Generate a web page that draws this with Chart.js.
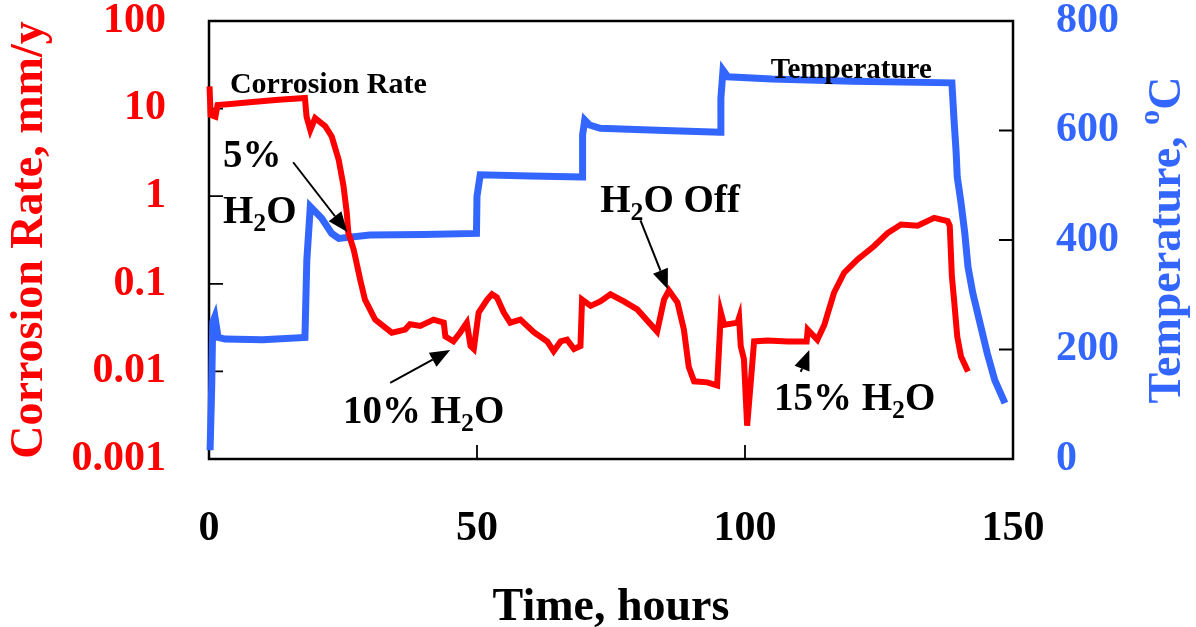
<!DOCTYPE html>
<html><head><meta charset="utf-8">
<script src="https://cdn.jsdelivr.net/npm/chart.js@4.4.1/dist/chart.umd.min.js"></script>
<style>html,body{margin:0;padding:0;background:#fff;} #wrap{width:1196px;height:627px;}</style>
</head><body><div id="wrap"><canvas id="c" width="1196" height="627"></canvas></div>
<script>
// ---- data (time in hours) ----
const corrTime = [
  0.1, 0.3, 1.2, 1.6, 4, 8.6, 13, 17.9, 18.2, 18.9,
  19.8, 21.7, 22.9, 24.2, 25.1, 25.7, 26.0, 27.0, 28.2, 29.1,
  31.0, 34.1, 36.6, 37.5, 39.4, 41.9, 43.8, 44.1, 45.6, 46.9,
  48.1, 48.8, 49.4, 50.3, 51.9, 52.8, 53.7, 55.0, 56.2, 58.1,
  60.6, 63.1, 64.3, 65.6, 66.8, 68.1, 69.3, 69.6, 71.2, 73.0,
  74.9, 77.4, 79.9, 83.6, 84.9, 85.8, 87.4, 88.6, 89.5, 90.5,
  93.0, 94.8, 95.5, 96.1, 98.6, 98.9, 99.2, 99.8, 100.4, 101.7,
  104.2, 108, 111.5, 111.7, 113.5, 114.8, 116.6, 118.5, 121.0, 124.1,
  126.6, 129.1, 132.2, 135.3, 137.8, 138.2, 138.6, 139.0, 139.6, 140.3,
  141.6
];
const corrRate = [
  17.9, 8.5, 8.1, 11, 11.3, 12, 12.6, 13.2, 8.1, 5.7,
  7.8, 6.3, 4.8, 2.6, 1.3, 0.65, 0.38, 0.245, 0.112, 0.066,
  0.039, 0.0277, 0.030, 0.0345, 0.033, 0.039, 0.036, 0.025, 0.022, 0.028,
  0.036, 0.0195, 0.018, 0.047, 0.066, 0.076, 0.070, 0.047, 0.036, 0.039,
  0.028, 0.022, 0.017, 0.022, 0.023, 0.018, 0.0195, 0.066, 0.056, 0.063,
  0.076, 0.063, 0.051, 0.0285, 0.066, 0.084, 0.061, 0.030, 0.0113, 0.0077,
  0.0075, 0.0069, 0.047, 0.034, 0.036, 0.041, 0.0195, 0.0138, 0.0024, 0.022,
  0.0225, 0.022, 0.022, 0.030, 0.023, 0.034, 0.079, 0.134, 0.19, 0.27,
  0.38, 0.475, 0.46, 0.566, 0.52, 0.46, 0.121, 0.066, 0.025, 0.0148,
  0.010
];
const tempTime = [
  0.2, 0.5, 0.7, 1.1, 1.7, 3, 10, 17.9, 18.25, 18.9,
  21.0, 22.9, 24.2, 30, 40, 49.9, 50.0, 50.6, 60, 69.6,
  69.7, 70.1, 71.0, 73, 85, 95.4, 95.5, 95.9, 96.8, 105,
  120, 138.6, 139.0, 139.4, 139.6, 140.3, 141.0, 141.6, 142.5, 143.7,
  145.2, 146.6, 148.5
];
const tempValue = [
  16, 130, 250, 260, 222, 219, 218, 222, 363, 461,
  440, 412, 403, 409, 410, 412, 480, 519, 517, 515,
  592, 619, 610, 604, 600, 597, 659, 710, 698, 694,
  690, 687, 619, 559, 515, 468, 413, 351, 303, 254,
  193, 144, 102
];
const timeTicks = [0, 50, 100, 150];
const rateTicks = [0.001, 0.01, 0.1, 1, 10, 100];
const rateTickLabels = ['0.001', '0.01', '0.1', '1', '10', '100'];
const tempTicks = [0, 200, 400, 600, 800];

// annotation anchors in data coordinates (time, temperature axis)
const noteTexts = [
  [{t:'Corrosion Rate'}],
  [{t:'Temperature'}],
  [{t:'5%'}],
  [{t:'H'},{t:'2',sub:true},{t:'O'}],
  [{t:'H'},{t:'2',sub:true},{t:'O Off'}],
  [{t:'10% H'},{t:'2',sub:true},{t:'O'}],
  [{t:'15% H'},{t:'2',sub:true},{t:'O'}]
];
const noteTime = [3.9, 104.8, 2.6, 2.6, 73.0, 25.0, 105.4];
const noteTemp = [668, 696, 533, 431, 451, 66, 89];
const arrowFrom = [[15.7, 542], [33.8, 139], [80.5, 436], [110.4, 159]];
const arrowTo   = [[25.8, 414.5], [45.0, 199], [85.6, 310], [112.0, 199]];

// ---- styles ----
const FONT = "'Liberation Serif','Times New Roman',serif";
const RED = '#ff0000', BLUE = '#3366ff';
const noteSize = [30, 29, 39, 39, 39, 39, 39];

function drawRich(ctx, segs, x, y, size) {
  let cx = x;
  segs.forEach(s => {
    const small = s.sub || s.sup;
    const fs = small ? size * 0.66 : size;
    ctx.font = `bold ${fs}px ${FONT}`;
    const dy = s.sub ? size * 0.2 : (s.sup ? -size * 0.45 : 0);
    ctx.fillText(s.t, cx, y + dy);
    cx += ctx.measureText(s.t).width;
  });
  return cx - x;
}
function richWidth(ctx, segs, size) {
  let w = 0;
  segs.forEach(s => {
    const fs = (s.sub || s.sup) ? size * 0.66 : size;
    ctx.font = `bold ${fs}px ${FONT}`;
    w += ctx.measureText(s.t).width;
  });
  return w;
}

const framePlugin = {
  id: 'frame',
  beforeDatasetsDraw(chart) {
    const {ctx, chartArea: a, scales} = chart;
    ctx.save();
    ctx.strokeStyle = '#000';
    ctx.lineWidth = 2.5;
    ctx.strokeRect(a.left, a.top, a.right - a.left, a.bottom - a.top);
    ctx.lineWidth = 1.8;
    const L = 14;
    ctx.beginPath();
    scales.x.ticks.forEach(t => {
      const p = scales.x.getPixelForValue(t.value);
      ctx.moveTo(p, a.bottom); ctx.lineTo(p, a.bottom - L);
    });
    scales.y.ticks.forEach(t => {
      const p = scales.y.getPixelForValue(t.value);
      ctx.moveTo(a.left, p); ctx.lineTo(a.left + L, p);
    });
    scales.y2.ticks.forEach(t => {
      const p = scales.y2.getPixelForValue(t.value);
      ctx.moveTo(a.right, p); ctx.lineTo(a.right - L, p);
    });
    ctx.stroke();
    ctx.restore();
  }
};

const notesPlugin = {
  id: 'notes',
  afterDraw(chart) {
    const {ctx, chartArea: a, scales} = chart;
    const X = v => scales.x.getPixelForValue(v);
    const Y = v => scales.y2.getPixelForValue(v);
    ctx.save();
    ctx.fillStyle = '#000';
    ctx.strokeStyle = '#000';
    ctx.textBaseline = 'alphabetic';
    ctx.textAlign = 'left';
    noteTexts.forEach((segs, i) => drawRich(ctx, segs, X(noteTime[i]), Y(noteTemp[i]), noteSize[i]));
    ctx.lineWidth = 2;
    arrowFrom.forEach((f, i) => {
      const x1 = X(f[0]), y1 = Y(f[1]), x2 = X(arrowTo[i][0]), y2 = Y(arrowTo[i][1]);
      const ang = Math.atan2(y2 - y1, x2 - x1);
      const hl = 20, hw = 8;
      const bx = x2 - hl * Math.cos(ang), by = y2 - hl * Math.sin(ang);
      ctx.beginPath(); ctx.moveTo(x1, y1); ctx.lineTo(bx, by); ctx.stroke();
      ctx.beginPath();
      ctx.moveTo(x2, y2);
      ctx.lineTo(bx + hw * Math.sin(ang), by - hw * Math.cos(ang));
      ctx.lineTo(bx - hw * Math.sin(ang), by + hw * Math.cos(ang));
      ctx.closePath(); ctx.fill();
    });
    // right axis title, rotated, reading bottom to top
    const titleSegs = [{t:'Temperature, '},{t:'o',sup:true},{t:'C'}];
    const size = 46;
    const w = richWidth(ctx, titleSegs, size);
    ctx.translate(a.right + 167, (a.top + a.bottom) / 2);
    ctx.rotate(-Math.PI / 2);
    ctx.fillStyle = BLUE;
    drawRich(ctx, titleSegs, -w / 2, 0, size);
    ctx.restore();
  }
};

const tickFont = {family: FONT, size: 42, weight: 'bold', lineHeight: 1};
const titleFont = {family: FONT, size: 46, weight: 'bold', lineHeight: 1};
const noPad = s => { s.paddingTop = 0; s.paddingBottom = 0; s.paddingLeft = 0; s.paddingRight = 0; };

new Chart(document.getElementById('c').getContext('2d'), {
  type: 'line',
  data: {
    datasets: [
      {
        label: 'Corrosion Rate',
        data: corrTime.map((t, i) => ({x: t, y: corrRate[i]})),
        yAxisID: 'y', borderColor: RED, backgroundColor: RED,
        borderWidth: 6, pointRadius: 0, tension: 0, fill: false, clip: false
      },
      {
        label: 'Temperature',
        data: tempTime.map((t, i) => ({x: t, y: tempValue[i]})),
        yAxisID: 'y2', borderColor: BLUE, backgroundColor: BLUE,
        borderWidth: 7, pointRadius: 0, tension: 0, fill: false, clip: false
      }
    ]
  },
  options: {
    responsive: false,
    animation: false,
    layout: {padding: {top: 21, left: 0, right: 0, bottom: 0}},
    plugins: {legend: {display: false}, tooltip: {enabled: false}},
    scales: {
      x: {
        type: 'linear', min: 0, max: 150, position: 'bottom',
        afterBuildTicks: s => { s.ticks = timeTicks.map(v => ({value: v})); },
        afterFit: s => { s.height = 168; noPad(s); },
        grid: {display: false}, border: {display: false},
        ticks: {color: '#000', font: tickFont, padding: 41, maxRotation: 0, autoSkip: false,
                callback: v => String(v)},
        title: {display: true, text: 'Time, hours', color: '#000',
                font: {family: FONT, size: 46, weight: 'bold', lineHeight: 0.8}, padding: {top: 0, bottom: 0}}
      },
      y: {
        type: 'logarithmic', position: 'left', min: 0.001, max: 100,
        afterBuildTicks: s => { s.ticks = rateTicks.map(v => ({value: v})); },
        afterFit: s => { s.width = 209; noPad(s); },
        grid: {display: false}, border: {display: false},
        ticks: {color: RED, font: tickFont, padding: 35, autoSkip: false,
                callback: v => { const i = rateTicks.indexOf(v); return i >= 0 ? rateTickLabels[i] : ''; }},
        title: {display: true, text: 'Corrosion Rate, mm/y', color: RED, font: titleFont, padding: {top: 7, bottom: 0}}
      },
      y2: {
        type: 'linear', position: 'right', min: 0, max: 800,
        afterBuildTicks: s => { s.ticks = tempTicks.map(v => ({value: v})); },
        afterFit: s => { s.width = 183; noPad(s); },
        grid: {display: false}, border: {display: false},
        ticks: {color: BLUE, font: tickFont, padding: 35, autoSkip: false, callback: v => String(v)}
      }
    }
  },
  plugins: [framePlugin, notesPlugin]
});
</script>
</body></html>
